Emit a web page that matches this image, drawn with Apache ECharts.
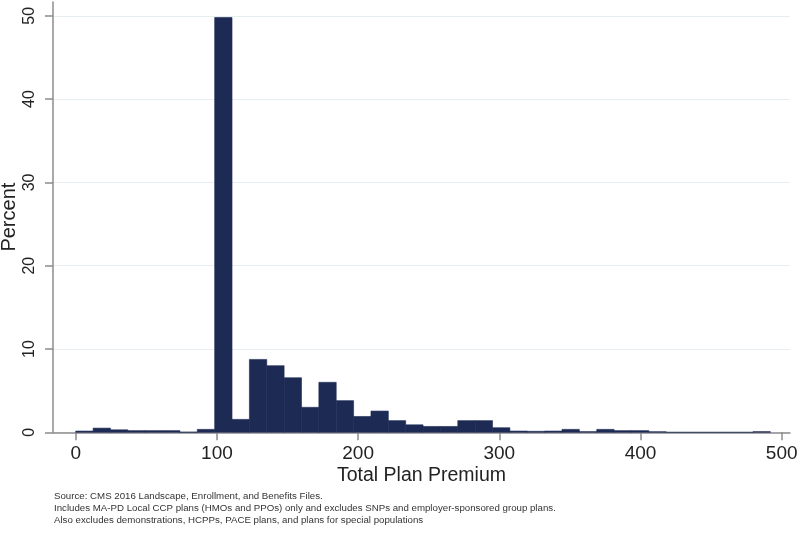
<!DOCTYPE html>
<html>
<head>
<meta charset="utf-8">
<script src="https://cdn.jsdelivr.net/npm/echarts@6/dist/echarts.min.js"></script>
<style>html,body{margin:0;padding:0;background:#fff;}#c{width:800px;height:537px;}</style>
</head>
<body>
<div id="c"></div>
<script>
// Histogram bins: start at 0, width in premium units
const binStart = 0;
const binWidth = 12.3;
// Percent of plans in each bin
const binPercents = [
  0.15, 0.5, 0.3, 0.2, 0.2, 0.2, 0.03, 0.35,
  49.8, 1.55, 8.75, 8.0, 6.55, 3.0, 6.0, 3.8,
  1.9, 2.55, 1.4, 0.9, 0.7, 0.7, 1.4, 1.4,
  0.55, 0.15, 0.12, 0.15, 0.35, 0.08, 0.35, 0.2,
  0.2, 0.07, 0, 0, 0, 0, 0, 0.08
];
const xTicks = [0, 100, 200, 300, 400, 500];
const yTicks = [0, 10, 20, 30, 40, 50];
const xTitle = 'Total Plan Premium';
const yTitle = 'Percent';
const notes = [
  'Source: CMS 2016 Landscape, Enrollment, and Benefits Files.',
  'Includes MA-PD Local CCP plans (HMOs and PPOs) only and excludes SNPs and employer-sponsored group plans.',
  'Also excludes demonstrations, HCPPs, PACE plans, and plans for special populations'
];

const data = binPercents.map((v, i) => [binStart + i * binWidth, binStart + (i + 1) * binWidth, v]);
const FONT = '"Liberation Sans", Arial, Helvetica, sans-serif';
const AXIS_COLOR = '#8c8c8c';
const BAR = '#1d2a54';

const chart = echarts.init(document.getElementById('c'), null, {renderer: 'canvas'});
chart.setOption({
  animation: false,
  backgroundColor: '#ffffff',
  grid: {left: 53, right: 10, top: 2, bottom: 104.7, containLabel: false, outerBoundsMode: 'none'},
  xAxis: {
    type: 'value', min: -16.1, max: 505.9,
    name: xTitle, nameLocation: 'middle', nameGap: 33, nameMoveOverlap: false,
    nameTextStyle: {fontFamily: FONT, fontSize: 19.5, color: '#222'},
    axisLine: {show: true, onZero: false, lineStyle: {color: AXIS_COLOR, width: 1.5}},
    axisTick: {show: true, length: 8, customValues: xTicks, lineStyle: {color: AXIS_COLOR, width: 1.5}},
    axisLabel: {customValues: xTicks, margin: 12, fontFamily: FONT, fontSize: 19, color: '#222'},
    splitLine: {show: false}
  },
  yAxis: {
    type: 'value', min: 0, max: 51.66,
    name: yTitle, nameLocation: 'middle', nameGap: 34, nameRotate: 90, nameMoveOverlap: false,
    nameTextStyle: {fontFamily: FONT, fontSize: 20, color: '#222'},
    axisLine: {show: true, onZero: false, lineStyle: {color: AXIS_COLOR, width: 1.5}},
    axisTick: {show: true, length: 8, customValues: yTicks, lineStyle: {color: AXIS_COLOR, width: 1.5}},
    axisLabel: {customValues: yTicks, rotate: 90, margin: 15, fontFamily: FONT, fontSize: 16, color: '#222'},
    splitLine: {show: true, lineStyle: {color: '#e6eef1', width: 1.2}}
  },
  series: [{
    type: 'custom',
    data: data,
    encode: {x: [0, 1], y: 2},
    renderItem: function (params, api) {
      const p0 = api.coord([api.value(0), 0]);
      const p1 = api.coord([api.value(1), api.value(2)]);
      return {
        type: 'rect',
        shape: {x: p0[0], y: p1[1], width: p1[0] - p0[0], height: p0[1] - p1[1]},
        style: {fill: BAR, stroke: BAR, lineWidth: 0.6}
      };
    }
  }],
  graphic: notes.map((t, i) => ({
    type: 'text', left: 54, top: 491.5 + i * 11.7,
    style: {text: t, fontFamily: FONT, fontSize: 9.7, fill: '#333'}
  }))
});
</script>
</body>
</html>
